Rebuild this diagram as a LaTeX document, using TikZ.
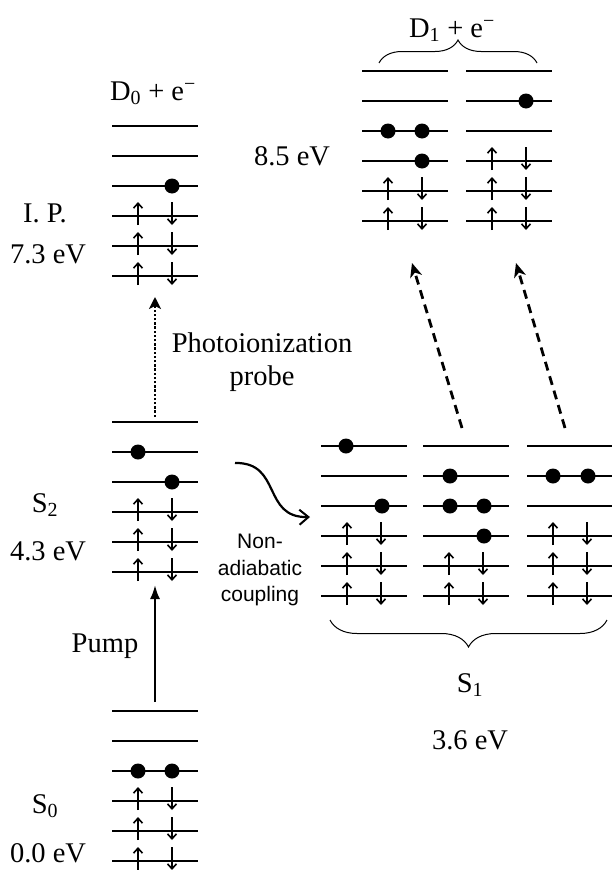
\documentclass[tikz,border=0pt]{standalone}
\usepackage{fontspec}
\setmainfont{Liberation Serif}
\setsansfont{Liberation Sans}
\usetikzlibrary{arrows.meta,decorations.pathreplacing,calc}

\tikzset{
  lvl/.style={line width=1.7pt},
  spin/.style={line width=1.8pt,-{Straight Barb[length=5pt,width=9pt,line width=1.6pt]}},
  elec/.style={circle,fill=black,inner sep=0pt,minimum size=15pt},
  lbl/.style={anchor=base,inner sep=0pt},
  probe/.style={line width=2.8pt,dash pattern=on 9pt off 6pt,-{Stealth[length=14pt,width=12pt,inset=4pt]}},
}
% six levels of one column: name, left x, top y
\newcommand{\levels}[3]{%
  \coordinate (#1) at (#2,#3);
  \foreach \i in {0,...,5}
    \draw[lvl] ($(#1)+(0,30*\i)$) -- ++(86,0);
}
% spin up and spin down on level #2 of column #1
\newcommand{\spins}[2]{%
  \draw[spin] ($(#1)+(26,30*#2+9)$) -- ++(0,-23);
  \draw[spin] ($(#1)+(60,30*#2-14)$) -- ++(0,23);
}
% one electron on level #2 of column #1, offset #3
\newcommand{\onel}[3]{\node[elec] (#1e#2x#3) at ($(#1)+(#3,30*#2)$) {};}

\begin{document}
\begin{tikzpicture}[x=1pt,y=-1pt,font=\fontsize{28.5}{34}\selectfont]
  \useasboundingbox (0,0) rectangle (612,870);

  % columns
  \levels{D0}{112}{126}
  \levels{S2}{112}{422}
  \levels{S0}{112}{711}
  \levels{D1a}{362}{71}
  \levels{D1b}{466}{71}
  \levels{S1a}{321}{446}
  \levels{S1b}{423}{446}
  \levels{S1c}{527}{446}

  % electrons
  \onel{D0}{2}{60}
  \spins{D0}{3} \spins{D0}{4} \spins{D0}{5}
  \onel{S2}{1}{26} \onel{S2}{2}{60}
  \spins{S2}{3} \spins{S2}{4} \spins{S2}{5}
  \onel{S0}{2}{26} \onel{S0}{2}{60}
  \spins{S0}{3} \spins{S0}{4} \spins{S0}{5}
  \onel{D1a}{2}{26} \onel{D1a}{2}{60} \onel{D1a}{3}{60}
  \spins{D1a}{4} \spins{D1a}{5}
  \onel{D1b}{1}{60}
  \spins{D1b}{3} \spins{D1b}{4} \spins{D1b}{5}
  \onel{S1a}{0}{25} \onel{S1a}{2}{61}
  \spins{S1a}{3} \spins{S1a}{4} \spins{S1a}{5}
  \onel{S1b}{1}{27} \onel{S1b}{2}{27} \onel{S1b}{2}{61} \onel{S1b}{3}{61}
  \spins{S1b}{4} \spins{S1b}{5}
  \onel{S1c}{1}{26} \onel{S1c}{1}{61}
  \spins{S1c}{3} \spins{S1c}{4} \spins{S1c}{5}

  % labels
  \node[lbl] (d0lbl) at (153,100) {D\textsubscript{0} + e\textsuperscript{−}};
  \node[lbl] (iplbl) at (45,222) {I. P.};
  \node[lbl] (d0ev) at (48,263) {7.3 eV};
  \node[lbl] (phlbl) at (262,352) {Photoionization};
  \node[lbl] (prlbl) at (262,385) {probe};
  \node[lbl] (s2lbl) at (45,512) {S\textsubscript{2}};
  \node[lbl] (s2ev) at (48,560) {4.3 eV};
  \node[lbl] (pmlbl) at (105,652) {Pump};
  \node[lbl] (s0lbl) at (45,813) {S\textsubscript{0}};
  \node[lbl] (s0ev) at (48,862) {0.0 eV};
  \node[lbl] (d1lbl) at (452,37) {D\textsubscript{1} + e\textsuperscript{−}};
  \node[lbl] (d1ev) at (292,165) {8.5 eV};
  \node[lbl] (s1lbl) at (470,692) {S\textsubscript{1}};
  \node[lbl] (s1ev) at (470,749) {3.6 eV};
  \node[font=\sffamily\fontsize{21}{26.5}\selectfont,align=center] (nalbl) at (260,570)
    {Non-\\adiabatic\\coupling};

  % braces
  \coordinate (d1l) at (379,63);
  \coordinate (d1r) at (537,63);
  \draw[line width=1pt,decorate,decoration={brace,amplitude=23pt}] (d1l) -- (d1r);
  \coordinate (s1l) at (330,620);
  \coordinate (s1r) at (607,620);
  \draw[line width=1pt,decorate,decoration={brace,amplitude=27pt}] (s1r) -- (s1l);

  % transitions
  \coordinate (pmfrom) at (155,702);
  \coordinate (pmto) at (155,585);
  \draw[line width=2.2pt,-{Latex[length=14pt,width=10pt]}] (pmfrom) -- (pmto);
  \coordinate (phfrom) at (155,417);
  \coordinate (phto) at (155,297);
  \draw[line width=2.8pt,dash pattern=on 2.4pt off 1.8pt,-{Stealth[length=12pt,width=12pt,inset=3pt]}] (phfrom) -- (phto);
  \coordinate (prafrom) at (462,428);
  \coordinate (prato) at (412,263);
  \draw[probe] (prafrom) -- (prato);
  \coordinate (prbfrom) at (565,428);
  \coordinate (prbto) at (516,263);
  \draw[probe] (prbfrom) -- (prbto);
  \coordinate (nafrom) at (235,463);
  \coordinate (nato) at (310,517);
  \draw[line width=2.2pt,-{Straight Barb[length=9pt,width=15pt,line width=2pt]}]
    (nafrom) .. controls (282,462) and (262,518) .. (nato);
\end{tikzpicture}
\end{document}
